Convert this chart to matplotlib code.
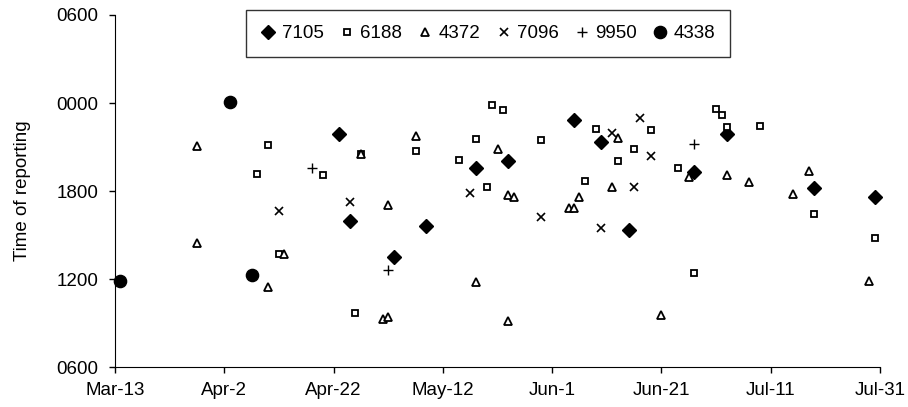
import matplotlib
matplotlib.use('Agg')
import matplotlib.pyplot as plt

plt.rcParams['font.family'] = ['Liberation Sans', 'DejaVu Sans']

# days after Mar-13, time of reporting in hours (24+ = after midnight)
d7105 = [41, 43, 51, 57, 66, 72, 84, 89, 94, 106, 112, 128, 139]
t7105 = [21.86, 15.97, 13.50, 15.63, 19.55, 20.07, 22.84, 21.34, 15.32, 19.32, 21.89, 18.18, 17.59]

d6188 = [28, 26, 30, 38, 45, 44, 55, 63, 66, 68, 69, 71, 78, 86, 88, 92, 95, 98, 103, 106,
         110, 111, 112, 118, 128, 139]
t6188 = [21.14, 19.18, 13.72, 19.09, 20.52, 9.70, 20.71, 20.11, 21.55, 18.25, 23.86, 23.52,
         21.46, 18.68, 22.23, 20.02, 20.86, 22.16, 19.59, 12.41, 23.61, 23.18, 22.36, 22.41,
         16.43, 14.82]

d4372 = [15, 15, 31, 28, 45, 55, 50, 49, 50, 70, 66, 72, 73, 72, 83, 84, 85, 91, 92, 100,
         105, 112, 116, 124, 127, 138]
t4372 = [21.07, 14.43, 13.68, 11.43, 20.52, 21.75, 17.05, 9.27, 9.43, 20.86, 11.78, 17.73,
         17.57, 9.16, 16.82, 16.82, 17.57, 18.25, 21.59, 9.52, 18.97, 19.11, 18.59, 17.80,
         19.36, 11.84]

d7096 = [30, 43, 65, 78, 89, 91, 96, 95, 98]
t7096 = [16.66, 17.25, 17.84, 16.23, 15.46, 21.97, 22.98, 18.27, 20.39]

d9950 = [36, 50, 106]
t9950 = [19.57, 12.61, 21.18]

d4338 = [1, 21, 25]
t4338 = [11.84, 24.05, 12.25]

xticks = [0, 20, 40, 60, 80, 100, 120, 140]
xlabels = ['Mar-13', 'Apr-2', 'Apr-22', 'May-12', 'Jun-1', 'Jun-21', 'Jul-11', 'Jul-31']
yticks = [6, 12, 18, 24, 30]
ylabels = ['0600', '1200', '1800', '0000', '0600']

fs = 13.5

fig = plt.figure(figsize=(9.08, 4.07), dpi=100)
ax = fig.add_axes([115/908, 40/407, 765/908, 352/407])

ax.plot(d7105, t7105, 'D', color='black', ms=6.8, ls='none', label='7105', clip_on=False)
ax.plot(d6188, t6188, 's', mfc='white', mec='black', ms=4.8, mew=1.3, ls='none', label='6188', clip_on=False)
ax.plot(d4372, t4372, '^', mfc='white', mec='black', ms=5.2, mew=1.3, ls='none', label='4372', clip_on=False)
ax.plot(d7096, t7096, 'x', color='black', ms=6, mew=1.2, ls='none', label='7096', clip_on=False)
ax.plot(d9950, t9950, '+', color='black', ms=6.5, mew=1.0, ls='none', label='9950', clip_on=False)
ax.plot(d4338, t4338, 'o', color='black', ms=8.8, ls='none', label='4338', clip_on=False)

ax.set_xlim(0, 140)
ax.set_ylim(6, 30)
ax.set_xticks(xticks)
ax.set_xticklabels(xlabels)
ax.set_yticks(yticks)
ax.set_yticklabels(ylabels)
ax.tick_params(labelsize=fs, length=4.5, width=1, direction='out')
ax.tick_params(axis='x', pad=6)
ax.tick_params(axis='y', pad=7.5)
ax.spines['top'].set_visible(False)
ax.spines['right'].set_visible(False)
ax.set_ylabel('Time of reporting', fontsize=fs, labelpad=18)

leg = ax.legend(loc='upper center', bbox_to_anchor=(488/908, 1 - 10/407), bbox_transform=fig.transFigure,
                ncol=6, fontsize=fs, frameon=True, fancybox=False, edgecolor='black',
                handlelength=0.8, handletextpad=0.3, columnspacing=0.85, borderpad=0.8,
                borderaxespad=0, numpoints=1)
leg.get_frame().set_linewidth(1.0)

fig.savefig('out.png', dpi=100)
